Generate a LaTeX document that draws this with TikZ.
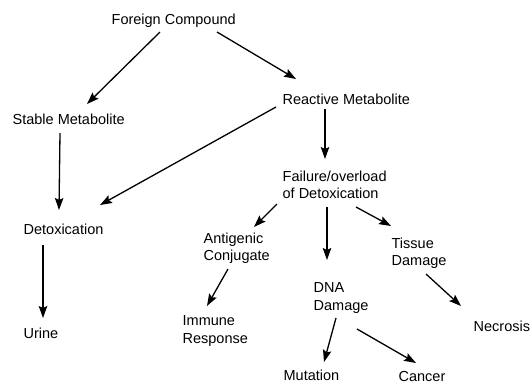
\documentclass[tikz,border=0pt]{standalone}
\usepackage{fontspec}
\setmainfont{Liberation Sans}
\usepackage{tikz}
\usetikzlibrary{arrows.meta}

\begin{document}
\begin{tikzpicture}[->,line width=1.3pt,>={Stealth[length=12pt,width=8.5pt,inset=2pt]},x=1pt,y=-1pt]
    \tikzstyle{lbl}=[anchor=north west, inner sep=0pt, align=left, text=black,
                     font={\fontsize{14.5}{17.5}\selectfont}]
    \useasboundingbox (0,0) rectangle (531,384);

    \node[lbl] (fc) at (111,13)  {Foreign Compound};
    \node[lbl] (sm) at (12,113)  {Stable Metabolite};
    \node[lbl] (rm) at (282,93)  {Reactive Metabolite};
    \node[lbl] (fo) at (282,170) {Failure/overload\\of Detoxication};
    \node[lbl] (dt) at (23,223)  {Detoxication};
    \node[lbl] (ur) at (23,327)  {Urine};
    \node[lbl] (ac) at (203,232) {Antigenic\\Conjugate};
    \node[lbl] (ir) at (182,315) {Immune\\Response};
    \node[lbl] (dn) at (313,282) {DNA\\Damage};
    \node[lbl] (td) at (391,237) {Tissue\\Damage};
    \node[lbl] (nc) at (473,320) {Necrosis};
    \node[lbl] (mu) at (283,369) {Mutation};
    \node[lbl] (ca) at (398,371) {Cancer};

    \path
     ([shift={(49,19)}]fc.north west)  edge ([shift={(75,-9)}]sm.north west)
     ([shift={(106,19)}]fc.north west) edge ([shift={(14,-14)}]rm.north west)
     ([shift={(-6,14)}]rm.north west)  edge ([shift={(77,-18)}]dt.north west)
     ([shift={(48,20)}]sm.north west)  edge ([shift={(36,-13)}]dt.north west)
     ([shift={(20,22)}]dt.north west)  edge ([shift={(20,-9)}]ur.north west)
     ([shift={(43,16)}]rm.north west)  edge ([shift={(43,-11)}]fo.north west)
     ([shift={(-5,34)}]fo.north west)  edge ([shift={(51,-5)}]ac.north west)
     ([shift={(45,37)}]fo.north west)  edge ([shift={(14,-22)}]dn.north west)
     ([shift={(74,37)}]fo.north west)  edge ([shift={(0,-11)}]td.north west)
     ([shift={(25,37)}]ac.north west)  edge ([shift={(25,-9)}]ir.north west)
     ([shift={(35,37)}]td.north west)  edge ([shift={(-12,-14)}]nc.north west)
     ([shift={(23,36)}]dn.north west)  edge ([shift={(41,-7)}]mu.north west)
     ([shift={(44,47)}]dn.north west)  edge ([shift={(18,-8)}]ca.north west)
     ;
\end{tikzpicture}
\end{document}
